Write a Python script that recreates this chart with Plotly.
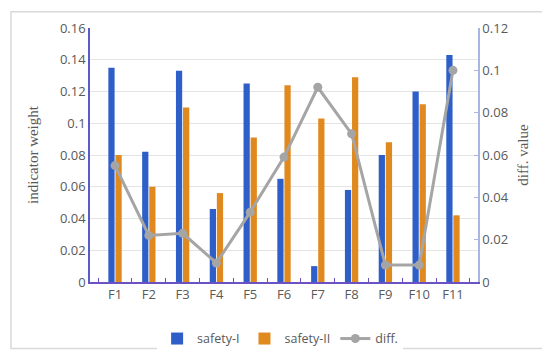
import plotly.graph_objects as go

categories = ["F1", "F2", "F3", "F4", "F5", "F6", "F7", "F8", "F9", "F10", "F11"]
safety_1 = [0.135, 0.082, 0.133, 0.046, 0.125, 0.065, 0.010, 0.058, 0.080, 0.120, 0.143]
safety_2 = [0.080, 0.060, 0.110, 0.056, 0.091, 0.124, 0.103, 0.129, 0.088, 0.112, 0.042]
diff_val = [0.055, 0.022, 0.023, 0.009, 0.033, 0.059, 0.092, 0.070, 0.008, 0.008, 0.100]
left_ticks = [0, 0.02, 0.04, 0.06, 0.08, 0.1, 0.12, 0.14, 0.16]
right_ticks = [0, 0.02, 0.04, 0.06, 0.08, 0.1, 0.12]

tick_font = dict(family="Open Sans, Liberation Sans, sans-serif", size=13, color="#595959")
legend_font = dict(family="Open Sans, Liberation Sans, sans-serif", size=12.5, color="#595959")
title_font = dict(family="Liberation Serif, serif", size=15, color="#595959")

fig = go.Figure()
fig.add_trace(go.Bar(x=categories, y=safety_1, name="safety-I", marker_color="#2e5fc9",
                     marker_line_width=0))
fig.add_trace(go.Bar(x=categories, y=safety_2, name="safety-II", marker_color="#e0891f",
                     marker_line_width=0))
fig.add_trace(go.Scatter(x=categories, y=diff_val, name="diff.", yaxis="y2",
                         mode="lines+markers",
                         line=dict(color="#a5a5a5", width=3),
                         marker=dict(color="#a5a5a5", size=9)))

fig.update_layout(
    width=550, height=358,
    margin=dict(l=82, r=80, t=20, b=74),
    paper_bgcolor="white", plot_bgcolor="white",
    barmode="group", bargap=0.58, bargroupgap=0.12,
    showlegend=True,
    legend=dict(orientation="h", x=0.49, xanchor="center", y=-0.165, yanchor="top",
                font=legend_font, traceorder="normal", itemwidth=30, tracegroupgap=0),
    xaxis=dict(showline=True, linecolor="#6b52c4", linewidth=1.5,
               ticks="inside", ticklen=4, tickcolor="#6b52c4", tickson="boundaries",
               tickfont=tick_font, showgrid=False),
    yaxis=dict(range=[0, 0.16], tickvals=left_ticks,
               ticktext=["0", "0.02", "0.04", "0.06", "0.08", "0.1", "0.12", "0.14", "0.16"],
               showgrid=True, gridcolor="#e3e3e3", gridwidth=1,
               showline=True, linecolor="#5b5bc8", linewidth=1.5,
               tickfont=tick_font, zeroline=False,
               title=dict(text="indicator weight", font=title_font, standoff=18)),
    yaxis2=dict(range=[0, 0.12], tickvals=right_ticks,
                ticktext=["0", "0.02", "0.04", "0.06", "0.08", "0.1", "0.12"],
                overlaying="y", side="right", showgrid=False,
                showline=True, linecolor="#a9b6e4", linewidth=1.5,
                ticks="inside", ticklen=4, tickcolor="#a9b6e4",
                tickfont=tick_font, zeroline=False,
                title=dict(text="diff. value", font=title_font, standoff=10)),
)

fig.add_shape(type="rect", xref="paper", yref="paper",
              x0=-79 / 388, x1=465 / 388, y0=-69 / 264, y1=1 + 17 / 264,
              line=dict(color="#d9d9d9", width=1.5), fillcolor="rgba(0,0,0,0)")

fig.write_html("out.html")
